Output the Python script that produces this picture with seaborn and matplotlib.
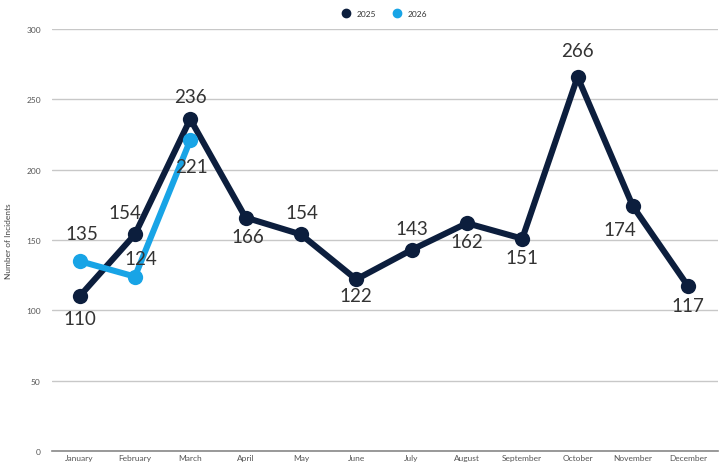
import matplotlib
matplotlib.use("Agg")
import matplotlib.pyplot as plt
import seaborn as sns
import pandas as pd
from matplotlib.lines import Line2D

months = ["January", "February", "March", "April", "May", "June", "July",
          "August", "September", "October", "November", "December"]
incidents_2025 = [110, 154, 236, 166, 154, 122, 143, 162, 151, 266, 174, 117]
months_2026 = ["January", "February", "March"]
incidents_2026 = [135, 124, 221]

# label offsets in pixels (dx, dy)
off_2025 = [(0, -22), (-10, 22), (0, 23), (2, -19), (1, 22), (0, -16), (0, 21),
            (0, -18), (0, -19), (0, 26), (-13, -23), (0, -19)]
off_2026 = [(2, 28), (6, 18), (1, -26)]

navy = "#0c1e3d"
blue = "#18a4e6"

df = pd.concat([
    pd.DataFrame({"Month": months, "Incidents": incidents_2025, "Year": "2025"}),
    pd.DataFrame({"Month": months_2026, "Incidents": incidents_2026, "Year": "2026"}),
])
df["x"] = df["Month"].map({m: i for i, m in enumerate(months)})

sns.set_style("white")
plt.rcParams["font.family"] = ["Lato", "DejaVu Sans"]

fig = plt.figure(figsize=(7.21, 4.64), dpi=100)
ax = fig.add_axes([0.072, 0.026, 0.924, 0.909])

sns.lineplot(data=df, x="x", y="Incidents", hue="Year",
             palette={"2025": navy, "2026": blue}, marker="o",
             markersize=11, markeredgewidth=0, linewidth=4.4, ax=ax,
             legend=False, zorder=3)

for i, (v, (dx, dy)) in enumerate(zip(incidents_2025, off_2025)):
    ax.annotate(str(v), (i, v), xytext=(dx, dy), textcoords="offset pixels",
                ha="center", va="center", fontsize=13.5, color="#333333", zorder=5)
for i, (v, (dx, dy)) in enumerate(zip(incidents_2026, off_2026)):
    ax.annotate(str(v), (i, v), xytext=(dx, dy), textcoords="offset pixels",
                ha="center", va="center", fontsize=13.5, color="#333333", zorder=5)

ax.set_ylim(0, 300)
ax.set_xlim(-0.5, 11.54)
ax.set_yticks([0, 50, 100, 150, 200, 250, 300])
ax.set_xticks(range(len(months)))
ax.set_xticklabels(months)
ax.tick_params(axis="both", labelsize=6, colors="#555555", length=0, pad=2)
ax.tick_params(axis="y", pad=8)
ax.yaxis.grid(True, color="#c8c8c8", linewidth=1)
for s in ["top", "right", "left"]:
    ax.spines[s].set_visible(False)
ax.spines["bottom"].set_color("#888888")
ax.spines["bottom"].set_linewidth(1.2)
ax.set_xlabel("")
ax.set_ylabel("Number of Incidents", fontsize=6, color="#444444", labelpad=10)

handles = [Line2D([], [], marker="o", linestyle="", color=navy, markersize=6),
           Line2D([], [], marker="o", linestyle="", color=blue, markersize=6)]
fig.legend(handles, ["2025", "2026"], loc="center", bbox_to_anchor=(0.53, 0.968),
           ncol=2, frameon=False, fontsize=6, handletextpad=0.3,
           columnspacing=1.5, labelcolor="#333333")

fig.savefig("out.png", dpi=100)
